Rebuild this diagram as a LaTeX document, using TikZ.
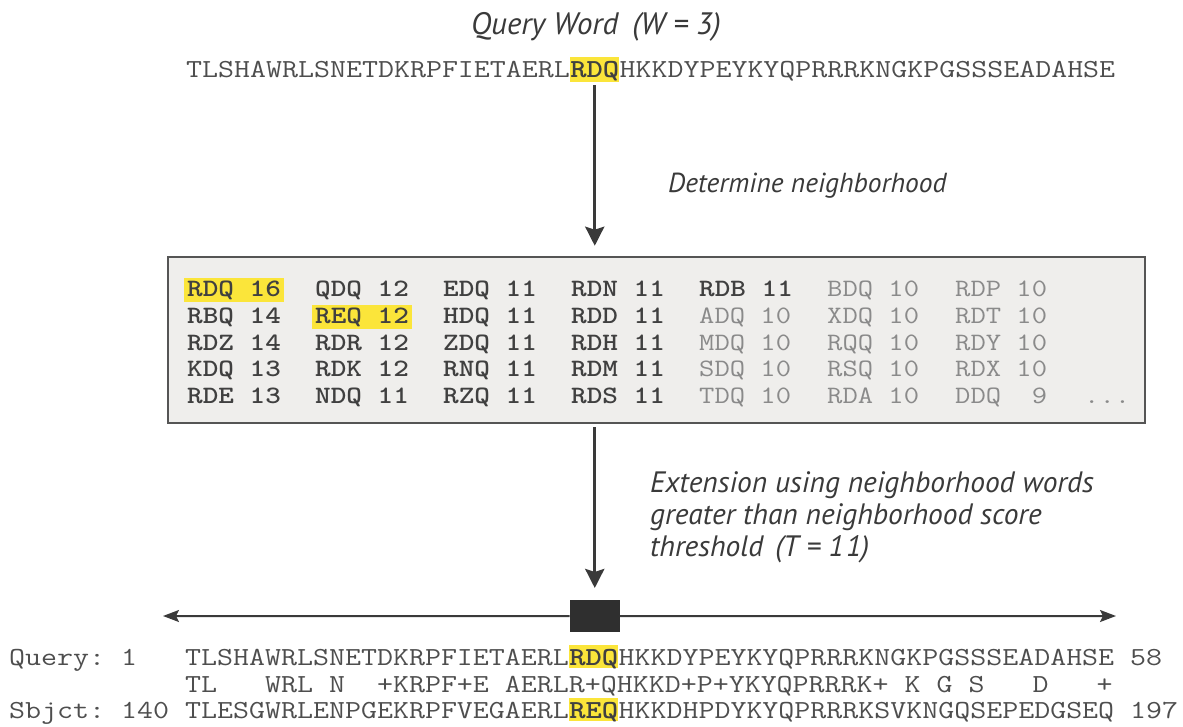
\documentclass[tikz,border=0pt]{standalone}
\usepackage{fontspec}
\usepackage{graphicx}
\newfontfamily\labelfont{PT Sans}
\usetikzlibrary{arrows.meta}

\definecolor{ink}{HTML}{3A3A3A}
\definecolor{seqc}{HTML}{4E4E4E}
\definecolor{dimc}{HTML}{8A8A8A}
\definecolor{boldc}{HTML}{404040}
\definecolor{hl}{HTML}{FBE53A}
\definecolor{panel}{HTML}{EFEEEC}
\definecolor{frame}{HTML}{555555}
\definecolor{seedc}{HTML}{2F2F2F}

% monospaced text widened to the character pitch of the figure
\newcommand\sq[1]{\scalebox{1.194}[1]{#1}}% sequences, 16pt pitch
\newcommand\tq[1]{\scalebox{1.19}[1]{#1}}% word table, 15.35pt pitch

\begin{document}
\begin{tikzpicture}[x=1pt,y=-1pt,
  lab/.style={font=\labelfont\itshape\fontsize{29.5}{33}\selectfont, text=ink, inner sep=0pt, anchor=base west},
  mono/.style={font=\ttfamily\fontsize{26}{26}\selectfont, text=seqc, inner sep=0pt, anchor=base west},
  hit/.style={mono, font=\ttfamily\bfseries\fontsize{26}{26}\selectfont, text=boldc, fill=hl, text height=21pt, text depth=4pt},
  hitlow/.style={hit, text height=20pt, text depth=3pt},
  tcell/.style={inner xsep=3pt, inner ysep=0pt, text height=19pt, text depth=5pt, anchor=base west, font=\ttfamily\fontsize{25}{25}\selectfont},
  tb/.style={tcell, font=\ttfamily\bfseries\fontsize{25}{25}\selectfont, text=boldc},
  tr/.style={tcell, text=dimc},
  tbh/.style={tb, fill=hl},
  panelbox/.style={draw=frame, line width=2.5pt, fill=panel, inner sep=0pt},
  seedbox/.style={fill=seedc, inner sep=0pt, minimum width=50pt, minimum height=32pt},
  flow/.style={draw=ink, line width=3pt, -{Stealth[length=19pt,width=19pt,inset=3pt]}},
  reach/.style={draw=ink, line width=2pt, -{Stealth[length=16pt,width=12pt,inset=3pt]}}
]
\useasboundingbox (0,0) rectangle (1183,727);

% heading
\node[lab, font=\labelfont\itshape\fontsize{31}{33}\selectfont, anchor=base east] (title) at (721,35) {Query Word\hspace{14pt}(W = 3)};

% query sequence with the word RDQ
\node[mono] (q-pre) at (186,78) {\sq{TLSHAWRLSNETDKRPFIETAERL}};
\node[hit] (q-hit) at (q-pre.base east) {\sq{RDQ}};
\node[mono] (q-post) at (q-hit.base east) {\sq{HKKDYPEYKYQPRRRKNGKPGSSSEADAHSE}};

% neighbourhood panel
\node[panelbox, minimum width=977pt, minimum height=166pt] (nb) at (656.5,340) {};

\foreach \c/\r/\s/\t in {
  1/1/tbh/RDQ 16, 2/1/tb/QDQ 12, 3/1/tb/EDQ 11, 4/1/tb/RDN 11, 5/1/tb/RDB 11, 6/1/tr/BDQ 10, 7/1/tr/RDP 10,
  1/2/tb/RBQ 14, 2/2/tbh/REQ 12, 3/2/tb/HDQ 11, 4/2/tb/RDD 11, 5/2/tr/ADQ 10, 6/2/tr/XDQ 10, 7/2/tr/RDT 10,
  1/3/tb/RDZ 14, 2/3/tb/RDR 12, 3/3/tb/ZDQ 11, 4/3/tb/RDH 11, 5/3/tr/MDQ 10, 6/3/tr/RQQ 10, 7/3/tr/RDY 10,
  1/4/tb/KDQ 13, 2/4/tb/RDK 12, 3/4/tb/RNQ 11, 4/4/tb/RDM 11, 5/4/tr/SDQ 10, 6/4/tr/RSQ 10, 7/4/tr/RDX 10,
  1/5/tb/RDE 13, 2/5/tb/NDQ 11, 3/5/tb/RZQ 11, 4/5/tb/RDS 11, 5/5/tr/TDQ 10, 6/5/tr/RDA 10, 7/5/tr/DDQ~~9}
  \node[\s] (t\r-\c) at ({184+128*(\c-1)},{297+26.5*(\r-1)}) {\tq{\t}};
\node[tr] (t-more) at (1081,403) {\tq{...}};

% step 1
\draw[flow, shorten <=3pt, shorten >=10pt] (q-hit.south) -- (q-hit.south |- nb.north);
\node[lab, font=\labelfont\itshape\fontsize{27.5}{33}\selectfont] (det) at (668,193) {Determine neighborhood};

% step 2
\path (q-hit.south) ++(0,534) node[seedbox] (seed) {};
\draw[flow, shorten <=3pt, shorten >=12pt] (seed.north |- nb.south) -- (seed.north);
\node[lab] (ext1) at (650,492) {Extension using neighborhood words};
\node[lab] (ext2) at (650,524) {greater than neighborhood score};
\node[lab] (ext3) at (650,556) {threshold\hspace{12pt}(T = 1\kern2pt1)};

% extension in both directions
\coordinate (ext-l) at (163,616);
\coordinate (ext-r) at (1116,616);
\draw[reach] (seed.west) -- (ext-l);
\draw[reach] (seed.east) -- (ext-r);

% resulting alignment
\node[mono] (qry-lab) at (9,665) {\sq{Query:~1}};
\node[mono] (qry-pre) at (185,665) {\sq{TLSHAWRLSNETDKRPFIETAERL}};
\node[hitlow] (qry-hit) at (qry-pre.base east) {\sq{RDQ}};
\node[mono] (qry-post) at (qry-hit.base east) {\sq{HKKDYPEYKYQPRRRKNGKPGSSSEADAHSE~58}};
\node[mono] (mid) at (185,692) {\sq{TL~~~WRL~N~~+KRPF+E~AERLR+QHKKD+P+YKYQPRRRK+~K~G~S~~~D~~~+}};
\node[mono] (sbj-lab) at (9,718) {\sq{Sbjct:~140}};
\node[mono] (sbj-pre) at (185,718) {\sq{TLESGWRLENPGEKRPFVEGAERL}};
\node[hitlow] (sbj-hit) at (sbj-pre.base east) {\sq{REQ}};
\node[mono] (sbj-post) at (sbj-hit.base east) {\sq{HKKDHPDYKYQPRRRKSVKNGQSEPEDGSEQ~197}};
\end{tikzpicture}
\end{document}
